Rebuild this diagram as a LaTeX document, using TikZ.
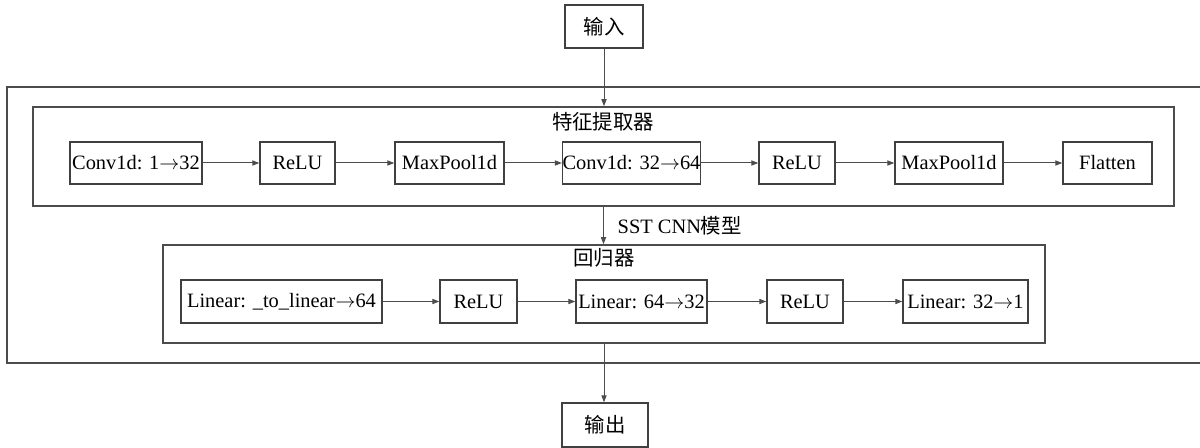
\documentclass[tikz,border=0pt]{standalone}
\usepackage{fontspec}
\setmainfont{Liberation Serif}
\newfontfamily\cjk{Noto Sans CJK SC}
\newcommand{\myarr}{$\rightarrow$}
\usetikzlibrary{arrows.meta}
\begin{document}
\begin{tikzpicture}[x=0.5pt,y=-0.5pt,
  font=\fontsize{10.2}{11}\selectfont,
  box/.style={draw=black!75, line width=0.7pt, rectangle, inner sep=0pt, minimum height=21pt},
  cluster/.style={draw=black!70, line width=0.8pt, rectangle, inner sep=0pt},
  edge/.style={draw=black!70, line width=0.5pt, -{Triangle[length=3.5pt,width=2.6pt]}}
]
\useasboundingbox (0,0) rectangle (1200,448);
% outer cluster
\draw[draw=black!70, line width=0.8pt] (1215,87) -- (7,87) -- (7,363) -- (1215,363);
% clusters
\node[cluster, minimum width=570.5pt, minimum height=49.5pt] (feat) at (603.5,156.5) {};
\node[cluster, minimum width=441pt, minimum height=49pt] (reg) at (604,294) {};
\node at (603,122) {\cjk 特征提取器};
\node at (604,258) {\cjk 回归器};
% input / output
\node[box, minimum width=39pt, minimum height=21.5pt] (in) at (604,26.5) {\cjk 输入};
\node[box, minimum width=43pt, minimum height=22pt] (out) at (605,425) {\cjk 输出};
% feature nodes
\node[box, minimum width=66pt] (f1) at (136,163) {Conv1d: 1\myarr 32};
\node[box, minimum width=37.5pt] (f2) at (297.5,163) {ReLU};
\node[box, minimum width=54.5pt] (f3) at (449.5,163) {MaxPool1d};
\node[box, minimum width=68.5pt] (f4) at (631.5,163) {Conv1d: 32\myarr 64};
\node[box, minimum width=38pt] (f5) at (797,163) {ReLU};
\node[box, minimum width=54pt] (f6) at (949,163) {MaxPool1d};
\node[box, minimum width=44.5pt] (f7) at (1107.5,163) {Flatten};
% regressor nodes
\node[box, minimum width=100.5pt, minimum height=21.5pt] (r1) at (281.5,301.5) {Linear: \_to\_linear\myarr 64};
\node[box, minimum width=38.5pt, minimum height=21.5pt] (r2) at (478.5,301.5) {ReLU};
\node[box, minimum width=65.5pt, minimum height=21.5pt] (r3) at (641.5,301.5) {Linear: 64\myarr 32};
\node[box, minimum width=38pt, minimum height=21.5pt] (r4) at (805,301.5) {ReLU};
\node[box, minimum width=62.5pt, minimum height=21.5pt] (r5) at (965.5,301.5) {Linear: 32\myarr 1};
% edges
\draw[edge] (f1) -- (f2);
\draw[edge] (f2) -- (f3);
\draw[edge] (f3) -- (f4);
\draw[edge] (f4) -- (f5);
\draw[edge] (f5) -- (f6);
\draw[edge] (f6) -- (f7);
\draw[edge] (r1) -- (r2);
\draw[edge] (r2) -- (r3);
\draw[edge] (r3) -- (r4);
\draw[edge] (r4) -- (r5);
\draw[edge] (in.south) -- (in.south |- feat.north);
\draw[edge] (feat.south) -- (feat.south |- reg.north) node[midway, anchor=west, xshift=3.5pt] (lbl) {SST CNN{\cjk 模型}};
\draw[edge] (reg.south) -- (reg.south |- out.north);
\end{tikzpicture}
\end{document}
